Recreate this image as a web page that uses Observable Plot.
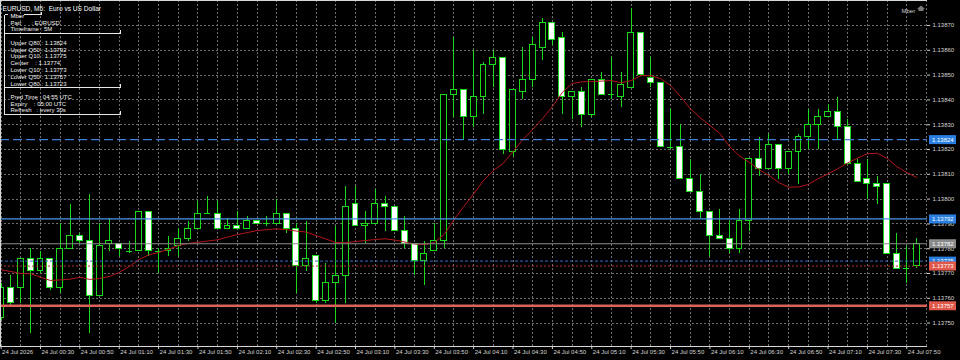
<!DOCTYPE html>
<html><head><meta charset="utf-8">
<script src="https://cdn.jsdelivr.net/npm/d3@7"></script>
<script src="https://cdn.jsdelivr.net/npm/@observablehq/plot@0.6"></script>
<style>
html,body{margin:0;padding:0;background:#000;}
#chart{position:relative;width:960px;height:360px;overflow:hidden;background:#000;}
svg{display:block;}
svg text{white-space:pre;}
</style></head><body><div id="chart"></div>
<script>
// ---- data (EURUSD M5, 24 Jul, bars from 00:10 to 07:55) ----
const opens = [1.13752,1.13764,1.13764,1.13776,1.13771,1.13776,1.13764,1.13780,1.13785,1.13783,
1.13761,1.13782,1.13782,1.13779,1.13779,1.13795,1.13779,1.13779,1.13781,1.13784,
1.13788,1.13794,1.13794,1.13788,1.13789,1.13788,1.13791,1.13790,1.13790,1.13794,
1.13788,1.13773,1.13777,1.13759,1.13766,1.13769,1.13798,1.13789,1.13790,1.13798,
1.13797,1.13787,1.13782,1.13775,1.13779,1.13783,1.13842,1.13844,1.13833,1.13841,
1.13854,1.13857,1.13819,1.13843,1.13848,1.13861,1.13871,1.13865,1.13841,1.13843,
1.13834,1.13848,1.13842,1.13841,1.13845,1.13867,1.13849,1.13847,1.13821,1.13821,
1.13808,1.13803,1.13795,1.13785,1.13784,1.13780,1.13791,1.13816,1.13812,1.13822,
1.13812,1.13819,1.13825,1.13830,1.13833,1.13835,1.13829,1.13814,1.13808,1.13806,
1.13806,1.13778,1.13772,1.13773];
const highs = [1.13766,1.13769,1.13776,1.13780,1.13779,1.13776,1.13790,1.13798,1.13786,1.13802,
1.13790,1.13792,1.13782,1.13783,1.13795,1.13795,1.13780,1.13785,1.13788,1.13791,
1.13799,1.13801,1.13799,1.13792,1.13795,1.13793,1.13791,1.13793,1.13800,1.13794,
1.13790,1.13791,1.13777,1.13774,1.13789,1.13805,1.13805,1.13795,1.13804,1.13801,
1.13797,1.13793,1.13782,1.13783,1.13790,1.13842,1.13865,1.13844,1.13860,1.13855,
1.13860,1.13857,1.13844,1.13861,1.13865,1.13873,1.13871,1.13867,1.13843,1.13845,
1.13848,1.13851,1.13857,1.13851,1.13877,1.13867,1.13857,1.13847,1.13836,1.13830,
1.13816,1.13810,1.13795,1.13796,1.13791,1.13796,1.13816,1.13825,1.13826,1.13822,
1.13819,1.13826,1.13836,1.13836,1.13838,1.13841,1.13832,1.13816,1.13816,1.13809,
1.13806,1.13786,1.13781,1.13784];
const lows = [1.13751,1.13757,1.13758,1.13746,1.13770,1.13763,1.13762,1.13780,1.13782,1.13746,
1.13761,1.13779,1.13777,1.13778,1.13779,1.13777,1.13770,1.13777,1.13777,1.13783,
1.13788,1.13794,1.13788,1.13788,1.13788,1.13788,1.13790,1.13789,1.13790,1.13786,
1.13762,1.13771,1.13758,1.13758,1.13750,1.13758,1.13789,1.13782,1.13790,1.13787,
1.13787,1.13780,1.13769,1.13765,1.13779,1.13780,1.13833,1.13824,1.13829,1.13834,
1.13845,1.13818,1.13817,1.13840,1.13845,1.13856,1.13862,1.13834,1.13832,1.13829,
1.13833,1.13842,1.13840,1.13837,1.13845,1.13850,1.13845,1.13821,1.13820,1.13808,
1.13803,1.13792,1.13777,1.13784,1.13778,1.13778,1.13787,1.13809,1.13812,1.13808,
1.13810,1.13806,1.13820,1.13820,1.13833,1.13824,1.13814,1.13807,1.13800,1.13798,
1.13778,1.13772,1.13766,1.13772];
const closes = [1.13764,1.13758,1.13776,1.13771,1.13776,1.13764,1.13780,1.13785,1.13783,1.13761,
1.13781,1.13783,1.13780,1.13779,1.13795,1.13779,1.13779,1.13780,1.13784,1.13788,
1.13794,1.13794,1.13788,1.13789,1.13788,1.13791,1.13790,1.13790,1.13794,1.13788,
1.13773,1.13776,1.13759,1.13766,1.13769,1.13797,1.13789,1.13790,1.13798,1.13797,
1.13787,1.13782,1.13775,1.13778,1.13783,1.13842,1.13844,1.13833,1.13841,1.13854,
1.13857,1.13820,1.13844,1.13848,1.13862,1.13871,1.13864,1.13841,1.13843,1.13834,
1.13848,1.13842,1.13842,1.13846,1.13867,1.13850,1.13847,1.13821,1.13821,1.13808,
1.13803,1.13795,1.13785,1.13784,1.13780,1.13791,1.13816,1.13812,1.13822,1.13812,
1.13819,1.13825,1.13830,1.13833,1.13835,1.13829,1.13814,1.13807,1.13806,1.13805,
1.13778,1.13772,1.13772,1.13782];
const maValues = [1.137715,1.137708,1.137700,1.137699,1.137685,1.137672,1.137674,1.137677,1.137685,1.137676,
1.137680,1.137688,1.137704,1.137728,1.137756,1.137775,1.137785,1.137797,1.137813,1.137821,
1.137826,1.137831,1.137836,1.137847,1.137857,1.137865,1.137873,1.137877,1.137880,1.137877,
1.137871,1.137867,1.137853,1.137839,1.137825,1.137824,1.137829,1.137833,1.137837,1.137840,
1.137835,1.137827,1.137819,1.137816,1.137825,1.137857,1.137917,1.137970,1.138021,1.138075,
1.138115,1.138144,1.138192,1.138240,1.138281,1.138325,1.138373,1.138430,1.138466,1.138473,
1.138474,1.138476,1.138478,1.138469,1.138478,1.138498,1.138498,1.138486,1.138458,1.138414,
1.138365,1.138329,1.138297,1.138265,1.138212,1.138174,1.138148,1.138119,1.138095,1.138067,
1.138048,1.138049,1.138059,1.138083,1.138102,1.138123,1.138146,1.138166,1.138183,1.138185,
1.138164,1.138131,1.138107,1.138087];
const timeLabels = ["24 Jul 2026","24 Jul 00:30","24 Jul 00:50","24 Jul 01:10","24 Jul 01:30","24 Jul 01:50",
"24 Jul 02:10","24 Jul 02:30","24 Jul 02:50","24 Jul 03:10","24 Jul 03:30","24 Jul 03:50",
"24 Jul 04:10","24 Jul 04:30","24 Jul 04:50","24 Jul 05:10","24 Jul 05:30","24 Jul 05:50",
"24 Jul 06:10","24 Jul 06:30","24 Jul 06:50","24 Jul 07:10","24 Jul 07:30","24 Jul 07:50"];
const priceTicks = [1.13750,1.13760,1.13770,1.13780,1.13790,1.13800,1.13810,1.13820,1.13830,1.13840,1.13850,1.13860,1.13870];
const levelNames = ["Upper Q80","Upper Q50","Bid","Upper Q10","Lower Q10","Lower Q50"];
const levelPrices = [1.13824,1.13792,1.13782,1.13775,1.13773,1.13757];
const panelKeys = ["Pair      ","Timeframe ","Upper Q80 ","Upper Q50 ","Upper Q10 ","Center    ","Lower Q10 ","Lower Q50 ","Lower Q80 ","Pred Time ","Expiry    ","Refresh   "];
const panelValues = ["EURUSD","5M","1.13824","1.13792","1.13775","1.13774","1.13773","1.13757","1.13723","04:55 UTC","05:00 UTC","every 30s"];
const chartTitle = "EURUSD, M5:  Euro vs US Dollar";
const indicatorName = "Mber";

// ---- build ----
const candles = opens.map((o, i) => ({i, open: o, high: highs[i], low: lows[i], close: closes[i], ma: maValues[i]}));
const bull = candles.filter(d => d.close > d.open);
const bear = candles.filter(d => d.close < d.open);
const doji = candles.filter(d => d.close === d.open);
const labelIdx = timeLabels.map((t, k) => ({i: k * 4, t}));
const gridIdx = d3.range(0, 95, 2);

const FONT = "'Liberation Sans', Arial, sans-serif";
const FS = 6;
const lime = "#19d919";
const grid = "#6f6f6f";
const levelStyle = [
  {stroke: "#3f7fd6", dash: "9,4", w: 1.2, box: "#2a7fe0"},
  {stroke: "#4a98ea", dash: null, w: 1.3, box: "#2a7fe0"},
  {stroke: "#8c8c8c", dash: null, w: 1, box: "#8a8a8a"},
  {stroke: "#3a6cc8", dash: "3,2", w: 1, box: "#2a7fe0"},
  {stroke: "#b03a30", dash: "2,2", w: 1, box: "#e0584a"},
  {stroke: "#d9625a", dash: null, w: 2.6, box: "#e0584a"}
];

const rowY = [20, 26.5, 40, 46.8, 53.6, 60.4, 67.2, 74, 80.8, 94, 100.8, 107.6];

const marks = [
  Plot.ruleY(priceTicks, {stroke: grid, strokeDasharray: "2,2", shapeRendering: "crispEdges"}),
  Plot.ruleX(gridIdx, {stroke: grid, strokeDasharray: "2,2", shapeRendering: "crispEdges"}),
  Plot.ruleX(candles, {x: "i", y1: "low", y2: "high", stroke: lime, shapeRendering: "crispEdges"}),
  Plot.rect(bull, {x1: d => d.i - 0.3, x2: d => d.i + 0.3, y1: "open", y2: "close", fill: "#000", stroke: lime, shapeRendering: "crispEdges"}),
  Plot.rect(bear, {x1: d => d.i - 0.3, x2: d => d.i + 0.3, y1: "open", y2: "close", fill: "#fff", stroke: lime, shapeRendering: "crispEdges"}),
  Plot.ruleY(doji, {y: "close", x1: d => d.i - 0.3, x2: d => d.i + 0.3, stroke: lime, shapeRendering: "crispEdges"}),
  Plot.line(candles, {x: "i", y: "ma", stroke: "#b2161a", strokeWidth: 1}),
];
levelPrices.forEach((p, k) => {
  const s = levelStyle[k];
  marks.push(Plot.ruleY([p], {stroke: s.stroke, strokeWidth: s.w, strokeDasharray: s.dash}));
});
marks.push(Plot.ruleX([-0.061], {stroke: "#d8d8d8"}));
marks.push(Plot.ruleY([1.138801], {stroke: "#d8d8d8"}));
marks.push(Plot.ruleY([1.1374056], {stroke: "#d8d8d8"}));
marks.push(Plot.ruleY(priceTicks, {insetLeft: 927, insetRight: -3, stroke: "#cfcfcf"}));
marks.push(Plot.text(priceTicks, {y: d => d, text: d => d.toFixed(5), frameAnchor: "right", dx: 5, textAnchor: "start", fill: "#d4d4d4", fontSize: FS}));
levelPrices.forEach((p, k) => {
  const s = levelStyle[k];
  marks.push(Plot.ruleY([p], {insetLeft: 929, insetRight: -29, stroke: s.box, strokeWidth: 9}));
  marks.push(Plot.text([p], {y: d => d, text: d => d.toFixed(5), frameAnchor: "right", dx: 4.5, textAnchor: "start", fill: "#ffffff", fontSize: FS}));
});
marks.push(Plot.ruleX(labelIdx, {x: "i", insetTop: 346, insetBottom: -3, stroke: "#cfcfcf"}));
marks.push(Plot.text(labelIdx, {x: "i", text: "t", frameAnchor: "bottom", dy: 7, dx: 1, textAnchor: "start", fill: "#d4d4d4", fontSize: FS}));
marks.push(Plot.text([chartTitle], {frameAnchor: "top-left", dx: 2, dy: 5.5, textAnchor: "start", fill: "#ffffff", fontSize: 6.6}));
marks.push(Plot.text([indicatorName], {frameAnchor: "top-right", dx: -26, dy: 8, textAnchor: "start", fill: "#d0d0d0", fontSize: FS}));
marks.push(Plot.text([indicatorName], {frameAnchor: "top-left", dx: 10, dy: 13.5, textAnchor: "start", fill: "#ffffff", fontSize: FS}));
panelKeys.forEach((k, r) => {
  marks.push(Plot.text([k + ": " + panelValues[r]], {frameAnchor: "top-left", dx: 10, dy: rowY[r], textAnchor: "start", fill: "#f0f0f0", fontSize: FS}));
});

const chart = Plot.plot({
  width: 960, height: 360,
  marginLeft: 0, marginRight: 33, marginTop: 0, marginBottom: 14,
  style: {background: "#000", color: "#ddd", fontFamily: FONT, fontSize: FS + "px"},
  x: {type: "linear", domain: [-0.061, 94.1], axis: null},
  y: {type: "linear", domain: [1.1374056, 1.138801], axis: null},
  marks
});
document.getElementById("chart").appendChild(chart);

const svg = d3.select(chart);
const g = svg.append("g").attr("stroke", "#e8e8e8").attr("stroke-width", 1).attr("fill", "none").attr("shape-rendering", "crispEdges");
const seg = (x1, y1, x2, y2) => g.append("line").attr("x1", x1).attr("y1", y1).attr("x2", x2).attr("y2", y2);
seg(4.5, 14.5, 8, 14.5); seg(24, 14.5, 41, 14.5); seg(41.5, 12, 41.5, 15);
seg(4.5, 14.5, 4.5, 114.5);
seg(4.5, 33.5, 120.5, 33.5); seg(120.5, 30, 120.5, 34);
seg(4.5, 87.5, 120.5, 87.5); seg(120.5, 84, 120.5, 88);
seg(4.5, 114.5, 120.5, 114.5); seg(120.5, 111, 120.5, 115);
svg.append("path").attr("d", "M917 9 L921 5.5 L925 9 L923.5 9 L923.5 11 L918.5 11 L918.5 9 Z").attr("fill", "#7a7a7a");
</script>
</body></html>
